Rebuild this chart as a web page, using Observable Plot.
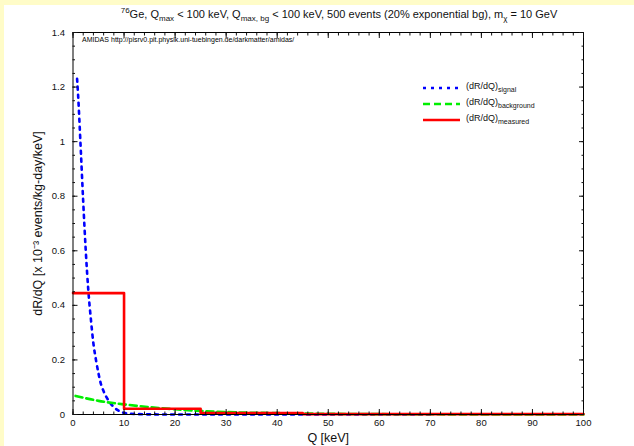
<!DOCTYPE html>
<html><head><meta charset="utf-8">
<script src="https://cdn.jsdelivr.net/npm/d3@7"></script>
<script src="https://cdn.jsdelivr.net/npm/@observablehq/plot@0.6"></script>
<style>
body{margin:0;background:#fff;font-family:"Liberation Sans",Arial,sans-serif;}
#wrap{position:relative;width:634px;height:446px;overflow:hidden;background:#fff;}
#topbar{position:absolute;left:0;top:0;width:634px;height:5px;background:#fffcc8;}
#leftbar{position:absolute;left:0;top:0;width:4px;height:446px;background:#fffcc8;z-index:2;}
#title{position:relative;height:25px;}
#title span{position:absolute;left:339px;top:8px;transform:translateX(-50%);white-space:nowrap;font-size:11px;color:#111;}
#title sub,#title sup{font-size:8px;line-height:0;}
#legend{position:absolute;left:423px;top:79.5px;font-size:9px;color:#111;}
.row{position:absolute;left:0;height:16px;white-space:nowrap;}
.row svg{position:absolute;left:0;top:0;}
.row span{position:absolute;left:43px;top:1px;}
.row sub{font-size:7px;line-height:0;}
</style></head>
<body>
<div id="wrap">
<div id="topbar"></div><div id="leftbar"></div>
<div id="title"><span><sup>76</sup>Ge, Q<sub>max</sub> &lt; 100 keV, Q<sub>max, bg</sub> &lt; 100 keV, 500 events (20% exponential bg), m<sub>χ</sub> = 10 GeV</span></div>
<div id="chart"></div>
<div id="legend"></div>
</div>
<script>
// signal spectrum
const signalQ = [0.8, 1.0, 1.5, 2.0, 2.5, 3.0, 3.5, 4.0, 4.5, 5.0, 5.5, 6.0, 7.0, 8.0, 9.0, 10, 12, 15, 20, 30, 40, 50, 60, 70];
const signalR = [1.23, 1.17, 0.98, 0.78, 0.60, 0.455, 0.35, 0.26, 0.20, 0.15, 0.11, 0.085, 0.05, 0.027, 0.013, 0.006, 0.002, 0.0005, 0, 0, 0, 0, 0, 0];
// background spectrum
const bgQ = [0.5, 5, 10, 15, 20, 25, 30, 40, 50, 60, 80, 100];
const bgR = [0.068, 0.05, 0.037, 0.027, 0.019, 0.013, 0.009, 0.005, 0.0025, 0.0013, 0.0004, 0.0001];
// measured (binned) spectrum: bin edges and heights
const binEdges = [0, 10, 25, 45, 100];
const binHeights = [0.445, 0.021, 0.005, 0.0015];
// ticks
const xTicks = [0, 10, 20, 30, 40, 50, 60, 70, 80, 90, 100];
const xMinor = d3.range(0, 101, 2);
const yTicks = [0, 0.2, 0.4, 0.6, 0.8, 1.0, 1.2, 1.4];
const yMinor = d3.range(0, 28.1, 1).map(i => i * 0.05);
const seriesNames = ["signal", "background", "measured"];
const seriesColors = ["#0000ff", "#00ee00", "#ff0000"];
const seriesDash = ["3,5", "7,4", null];

const signal = signalQ.map((q, i) => ({q, r: signalR[i]}));
const bg = bgQ.map((q, i) => ({q, r: bgR[i]}));
const measured = binEdges.map((q, i) => ({q, r: binHeights[Math.min(i, binHeights.length - 1)]}));

const chart = Plot.plot({
  width: 634, height: 421,
  marginLeft: 72.5, marginRight: 51, marginTop: 7, marginBottom: 32,
  style: {fontFamily: "Liberation Sans, Arial, sans-serif", background: "transparent", color: "#111"},
  x: {domain: [0, 100]},
  y: {domain: [0, 1.4]},
  marks: [
    Plot.line(signal, {x: "q", y: "r", stroke: seriesColors[0], strokeWidth: 2.6, strokeDasharray: seriesDash[0], curve: "monotone-x"}),
    Plot.line(bg, {x: "q", y: "r", stroke: seriesColors[1], strokeWidth: 2.6, strokeDasharray: seriesDash[1], curve: "monotone-x"}),
    Plot.line(measured, {x: "q", y: "r", stroke: seriesColors[2], strokeWidth: 2.6, curve: "step-after"}),
    Plot.frame({stroke: "#000", strokeWidth: 1}),
    Plot.axisX(xTicks, {anchor: "bottom", tickSize: 0, tickPadding: 5, fontSize: 9.5, label: "Q [keV]", labelAnchor: "center", labelArrow: "none", labelOffset: 27}),
    Plot.axisX(xTicks, {anchor: "bottom", tickSize: -5, text: null, label: null}),
    Plot.axisX(xMinor, {anchor: "bottom", tickSize: -2.5, text: null, label: null}),
    Plot.axisX(xTicks, {anchor: "top", tickSize: -5, text: null, label: null}),
    Plot.axisX(xMinor, {anchor: "top", tickSize: -2.5, text: null, label: null}),
    Plot.axisY(yTicks, {anchor: "left", tickSize: 0, tickPadding: 8, fontSize: 9.5, tickFormat: d3.format("~g"), label: "dR/dQ [x 10⁻³ events/kg-day/keV]", labelAnchor: "center", labelArrow: "none", labelOffset: 40}),
    Plot.axisY(yTicks, {anchor: "left", tickSize: -5, text: null, label: null}),
    Plot.axisY(yMinor, {anchor: "left", tickSize: -2.5, text: null, label: null}),
    Plot.axisY(yTicks, {anchor: "right", tickSize: -5, text: null, label: null}),
    Plot.axisY(yMinor, {anchor: "right", tickSize: -2.5, text: null, label: null}),
    Plot.text(["AMIDAS"], {frameAnchor: "top-left", dx: 9, dy: 5, fontSize: 7, textAnchor: "start", fill: "#000"}),
    Plot.text(["http://pisrv0.pit.physik.uni-tuebingen.de/darkmatter/amidas/"], {frameAnchor: "top-left", dx: 38, dy: 5, fontSize: 7, textAnchor: "start", fill: "#000"})
  ]
});
d3.select(chart).selectAll("[aria-label='x-axis label'] text, [aria-label='y-axis label'] text").style("font-size", "12.5px");
document.getElementById("chart").appendChild(chart);

const legend = d3.select("#legend");
const rowsY = [0, 16.5, 32];
seriesNames.forEach((name, i) => {
  const row = legend.append("div").attr("class", "row").style("top", rowsY[i] + "px");
  const sw = row.append("svg").attr("width", 40).attr("height", 16);
  sw.append("line").attr("x1", 0).attr("x2", 37).attr("y1", 8).attr("y2", 8)
    .attr("stroke", seriesColors[i]).attr("stroke-width", 2.6)
    .attr("stroke-dasharray", seriesDash[i]);
  row.append("span").html(`(dR/dQ)<sub>${name}</sub>`);
});
</script>
</body></html>
